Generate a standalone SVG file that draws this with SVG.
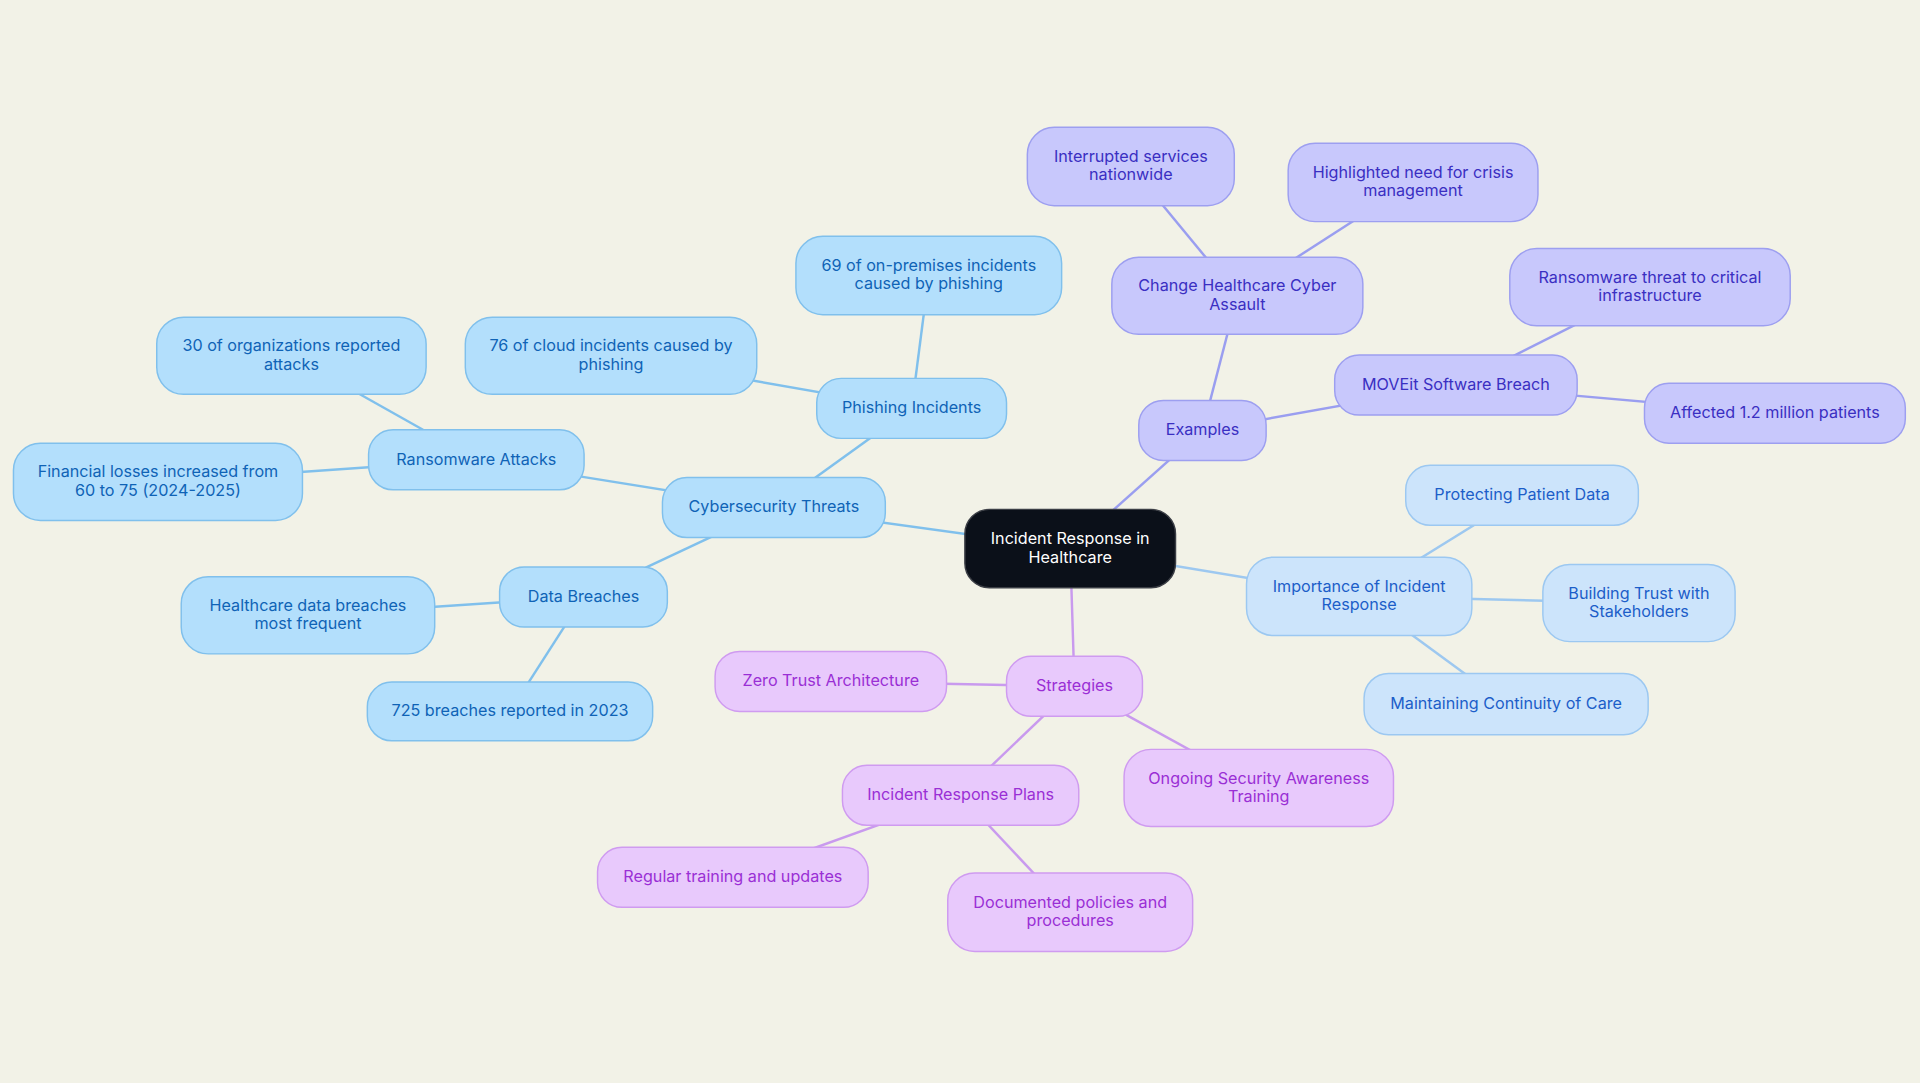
<svg xmlns="http://www.w3.org/2000/svg" width="1920" height="1083" viewBox="0 0 1920 1083">
<style>
  text { font-family: "Inter", "Noto Sans", "Liberation Sans", sans-serif; font-size: 13.2px; text-anchor: middle; dominant-baseline: central; transform: translateY(-1px); }
  .c1 rect { fill: #b3dffc; stroke: #80c0ec; stroke-width: 1.2; }
  .c1 text { fill: #0f63b6; }
  .c2 rect { fill: #c8c8fc; stroke: #9d9ff0; stroke-width: 1.2; }
  .c2 text { fill: #3a2fc2; }
  .c3 rect { fill: #cce4fb; stroke: #9cc8f1; stroke-width: 1.2; }
  .c3 text { fill: #1c5ec9; }
  .c4 rect { fill: #e8c9fc; stroke: #cf9bf0; stroke-width: 1.2; }
  .c4 text { fill: #9a2fd5; }
  .root rect { fill: #0b1019; stroke: #3b3e45; stroke-width: 1.2; }
  .root text { fill: #ffffff; }
  #connectors line { stroke-width: 2; fill: none; }
  .l1 { stroke: #80c0ec; }
  .l2 { stroke: #9a9ef0; }
  .l3 { stroke: #9dc8f0; }
  .l4 { stroke: #c99aee; }
</style>
<rect x="0" y="0" width="1920" height="1083" fill="#f2f2e7"/>
<g transform="scale(1.22449)">
<g id="connectors">
  <line class="l1" x1="874" y1="448" x2="632" y2="414.5"/>
  <line class="l1" x1="632" y1="414.5" x2="744.5" y2="333.5"/>
  <line class="l1" x1="744.5" y1="333.5" x2="758.5" y2="225"/>
  <line class="l1" x1="744.5" y1="333.5" x2="499" y2="290.5"/>
  <line class="l1" x1="632" y1="414.5" x2="389" y2="375.5"/>
  <line class="l1" x1="389" y1="375.5" x2="238" y2="290.5"/>
  <line class="l1" x1="389" y1="375.5" x2="129" y2="393.5"/>
  <line class="l1" x1="632" y1="414.5" x2="476.5" y2="487.5"/>
  <line class="l1" x1="476.5" y1="487.5" x2="251.5" y2="502.5"/>
  <line class="l1" x1="476.5" y1="487.5" x2="416.5" y2="581"/>
  <line class="l2" x1="874" y1="448" x2="982" y2="351.5"/>
  <line class="l2" x1="982" y1="351.5" x2="1010.5" y2="241.5"/>
  <line class="l2" x1="1010.5" y1="241.5" x2="923.5" y2="136"/>
  <line class="l2" x1="1010.5" y1="241.5" x2="1154" y2="149"/>
  <line class="l2" x1="982" y1="351.5" x2="1189" y2="314.5"/>
  <line class="l2" x1="1189" y1="314.5" x2="1347.5" y2="234.5"/>
  <line class="l2" x1="1189" y1="314.5" x2="1449.5" y2="337.5"/>
  <line class="l3" x1="874" y1="448" x2="1110" y2="487"/>
  <line class="l3" x1="1110" y1="487" x2="1243" y2="404.5"/>
  <line class="l3" x1="1110" y1="487" x2="1338.5" y2="492.5"/>
  <line class="l3" x1="1110" y1="487" x2="1230" y2="575"/>
  <line class="l4" x1="874" y1="448" x2="877.5" y2="560.5"/>
  <line class="l4" x1="877.5" y1="560.5" x2="678.5" y2="556.5"/>
  <line class="l4" x1="877.5" y1="560.5" x2="784.5" y2="649.5"/>
  <line class="l4" x1="877.5" y1="560.5" x2="1028" y2="643.5"/>
  <line class="l4" x1="784.5" y1="649.5" x2="598.5" y2="716.5"/>
  <line class="l4" x1="784.5" y1="649.5" x2="874" y2="745"/>
</g>

<g id="root" class="root">
  <rect x="788" y="416" width="172" height="64" rx="20"/>
  <text x="874" y="440.5">Incident Response in</text>
  <text x="874" y="455.5">Healthcare</text>
</g>

<g id="cyber" class="c1">
  <rect x="541" y="390" width="182" height="49" rx="20"/>
  <text x="632" y="414.5">Cybersecurity Threats</text>
</g>
<g id="phishing" class="c1">
  <rect x="667" y="309" width="155" height="49" rx="20"/>
  <text x="744.5" y="333.5">Phishing Incidents</text>
</g>
<g id="phish69" class="c1">
  <rect x="650" y="193" width="217" height="64" rx="22"/>
  <text x="758.5" y="217.5">69 of on-premises incidents</text>
  <text x="758.5" y="232.5">caused by phishing</text>
</g>
<g id="phish76" class="c1">
  <rect x="380" y="259" width="238" height="63" rx="22"/>
  <text x="499" y="283">76 of cloud incidents caused by</text>
  <text x="499" y="298">phishing</text>
</g>
<g id="ransomware" class="c1">
  <rect x="301" y="351" width="176" height="49" rx="20"/>
  <text x="389" y="375.5">Ransomware Attacks</text>
</g>
<g id="ransom30" class="c1">
  <rect x="128" y="259" width="220" height="63" rx="22"/>
  <text x="238" y="283">30 of organizations reported</text>
  <text x="238" y="298">attacks</text>
</g>
<g id="financial" class="c1">
  <rect x="11" y="362" width="236" height="63" rx="22"/>
  <text x="129" y="386">Financial losses increased from</text>
  <text x="129" y="401">60 to 75 (2024-2025)</text>
</g>
<g id="databreaches" class="c1">
  <rect x="408" y="463" width="137" height="49" rx="20"/>
  <text x="476.5" y="487.5">Data Breaches</text>
</g>
<g id="hcbreaches" class="c1">
  <rect x="148" y="471" width="207" height="63" rx="22"/>
  <text x="251.5" y="495">Healthcare data breaches</text>
  <text x="251.5" y="510">most frequent</text>
</g>
<g id="breaches725" class="c1">
  <rect x="300" y="557" width="233" height="48" rx="20"/>
  <text x="416.5" y="581">725 breaches reported in 2023</text>
</g>

<g id="examples" class="c2">
  <rect x="930" y="327" width="104" height="49" rx="20"/>
  <text x="982" y="351.5">Examples</text>
</g>
<g id="change" class="c2">
  <rect x="908" y="210" width="205" height="63" rx="22"/>
  <text x="1010.5" y="234">Change Healthcare Cyber</text>
  <text x="1010.5" y="249">Assault</text>
</g>
<g id="interrupted" class="c2">
  <rect x="839" y="104" width="169" height="64" rx="22"/>
  <text x="923.5" y="128.5">Interrupted services</text>
  <text x="923.5" y="143.5">nationwide</text>
</g>
<g id="highlighted" class="c2">
  <rect x="1052" y="117" width="204" height="64" rx="22"/>
  <text x="1154" y="141.5">Highlighted need for crisis</text>
  <text x="1154" y="156.5">management</text>
</g>
<g id="moveit" class="c2">
  <rect x="1090" y="290" width="198" height="49" rx="20"/>
  <text x="1189" y="314.5">MOVEit Software Breach</text>
</g>
<g id="ransomthreat" class="c2">
  <rect x="1233" y="203" width="229" height="63" rx="22"/>
  <text x="1347.5" y="227">Ransomware threat to critical</text>
  <text x="1347.5" y="242">infrastructure</text>
</g>
<g id="affected" class="c2">
  <rect x="1343" y="313" width="213" height="49" rx="20"/>
  <text x="1449.5" y="337.5">Affected 1.2 million patients</text>
</g>

<g id="importance" class="c3">
  <rect x="1018" y="455" width="184" height="64" rx="22"/>
  <text x="1110" y="479.5">Importance of Incident</text>
  <text x="1110" y="494.5">Response</text>
</g>
<g id="protecting" class="c3">
  <rect x="1148" y="380" width="190" height="49" rx="20"/>
  <text x="1243" y="404.5">Protecting Patient Data</text>
</g>
<g id="trust" class="c3">
  <rect x="1260" y="461" width="157" height="63" rx="22"/>
  <text x="1338.5" y="485">Building Trust with</text>
  <text x="1338.5" y="500">Stakeholders</text>
</g>
<g id="continuity" class="c3">
  <rect x="1114" y="550" width="232" height="50" rx="20"/>
  <text x="1230" y="575">Maintaining Continuity of Care</text>
</g>

<g id="strategies" class="c4">
  <rect x="822" y="536" width="111" height="49" rx="20"/>
  <text x="877.5" y="560.5">Strategies</text>
</g>
<g id="zerotrust" class="c4">
  <rect x="584" y="532" width="189" height="49" rx="20"/>
  <text x="678.5" y="556.5">Zero Trust Architecture</text>
</g>
<g id="irp" class="c4">
  <rect x="688" y="625" width="193" height="49" rx="20"/>
  <text x="784.5" y="649.5">Incident Response Plans</text>
</g>
<g id="awareness" class="c4">
  <rect x="918" y="612" width="220" height="63" rx="22"/>
  <text x="1028" y="636">Ongoing Security Awareness</text>
  <text x="1028" y="651">Training</text>
</g>
<g id="regular" class="c4">
  <rect x="488" y="692" width="221" height="49" rx="20"/>
  <text x="598.5" y="716.5">Regular training and updates</text>
</g>
<g id="documented" class="c4">
  <rect x="774" y="713" width="200" height="64" rx="22"/>
  <text x="874" y="737.5">Documented policies and</text>
  <text x="874" y="752.5">procedures</text>
</g>
</g>
</svg>
